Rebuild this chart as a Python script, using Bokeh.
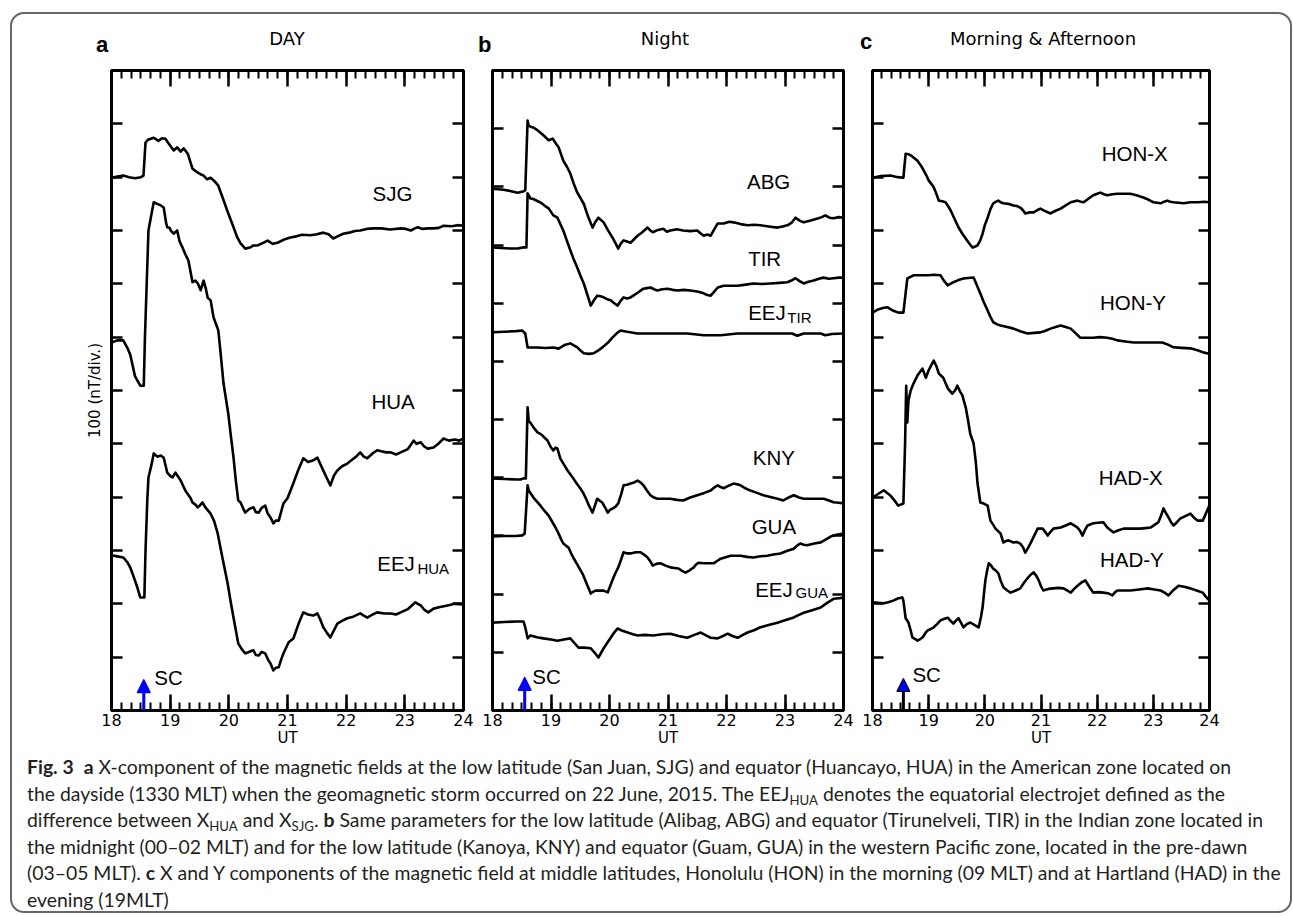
from bokeh.plotting import figure
from bokeh.models import (Range1d, LinearAxis, SingleIntervalTicker, Arrow,
                          NormalHead, ColumnDataSource, Div, CustomJSTickFormatter)
from bokeh.layouts import row, column
from bokeh.embed import file_html
from bokeh.resources import INLINE
from bokeh.core.properties import value

# ---------------- data (UT hours, stacked nT value on the plot scale) ----------------
SJG = [(18.00,999),(18.10,1001),(18.20,1003),(18.30,1000),(18.40,998),(18.50,1000),(18.545,1003),(18.58,1065),(18.62,1070),(18.72,1074),(18.80,1068),(18.86,1073),(18.92,1072),(18.98,1062),(19.06,1050),(19.12,1056),(19.18,1048),(19.23,1054),(19.30,1044),(19.34,1030),(19.38,1016),(19.45,1010),(19.51,1006),(19.57,1003),(19.63,996),(19.69,999),(19.76,992),(19.82,984),(19.90,960),(19.98,935),(20.08,906),(20.14,888),(20.20,876),(20.28,866),(20.36,868),(20.42,872),(20.49,872),(20.57,876),(20.66,881),(20.75,875),(20.83,877),(20.94,883),(21.05,887),(21.15,889),(21.25,892),(21.39,891),(21.50,893),(21.61,896),(21.70,893),(21.78,885),(21.87,890),(21.95,894),(22.05,896),(22.15,899),(22.24,900),(22.35,903),(22.47,904),(22.60,904),(22.75,902),(22.93,904),(23.02,903),(23.10,900),(23.17,904),(23.22,906),(23.30,903),(23.40,904),(23.49,904),(23.58,905),(23.66,909),(23.80,908),(23.90,910),(24.00,909)]
HUA = [(18.00,690),(18.10,694),(18.20,694),(18.27,680),(18.32,667),(18.40,627),(18.49,609),(18.55,609),(18.57,700),(18.60,800),(18.63,900),(18.68,930),(18.72,953),(18.78,950),(18.84,947),(18.89,943),(18.93,915),(18.95,906),(18.99,905),(19.01,900),(19.06,894),(19.12,900),(19.16,880),(19.21,868),(19.26,855),(19.31,844),(19.36,815),(19.38,803),(19.43,806),(19.47,801),(19.52,788),(19.57,806),(19.61,790),(19.64,774),(19.69,769),(19.74,737),(19.82,713),(19.86,670),(19.91,613),(19.99,557),(20.04,510),(20.08,474),(20.12,430),(20.16,394),(20.20,390),(20.24,380),(20.28,371),(20.35,378),(20.42,381),(20.46,372),(20.51,371),(20.56,380),(20.62,384),(20.66,370),(20.71,362),(20.76,351),(20.80,356),(20.85,356),(20.89,372),(20.93,388),(21.00,398),(21.05,412),(21.10,426),(21.18,450),(21.27,473),(21.35,466),(21.44,469),(21.51,474),(21.56,462),(21.61,450),(21.67,436),(21.73,422),(21.79,440),(21.85,450),(21.93,458),(22.02,463),(22.10,470),(22.17,476),(22.24,484),(22.30,476),(22.36,473),(22.45,482),(22.53,488),(22.60,486),(22.68,484),(22.76,484),(22.85,480),(22.93,484),(23.05,490),(23.15,506),(23.20,500),(23.27,503),(23.33,495),(23.39,491),(23.49,493),(23.57,500),(23.66,510),(23.75,506),(23.85,508),(23.93,506),(24.00,510)]
EEJ_HUA = [(18.00,291),(18.10,289),(18.20,287),(18.27,278),(18.32,268),(18.38,250),(18.44,231),(18.49,212),(18.56,212),(18.58,300),(18.61,394),(18.63,437),(18.68,460),(18.72,482),(18.78,476),(18.84,478),(18.89,474),(18.95,446),(19.00,440),(19.04,437),(19.09,446),(19.14,438),(19.18,431),(19.26,412),(19.35,398),(19.38,390),(19.43,386),(19.47,381),(19.51,385),(19.55,390),(19.60,381),(19.69,369),(19.75,355),(19.81,332),(19.89,287),(19.98,238),(20.03,205),(20.08,174),(20.16,126),(20.22,115),(20.28,107),(20.35,110),(20.42,113),(20.46,104),(20.51,103),(20.56,110),(20.62,107),(20.67,95),(20.71,88),(20.76,75),(20.80,80),(20.85,81),(20.89,95),(20.93,107),(21.02,128),(21.10,135),(21.19,163),(21.27,184),(21.35,180),(21.44,178),(21.51,182),(21.56,170),(21.61,156),(21.67,146),(21.73,137),(21.79,150),(21.85,163),(21.93,168),(22.02,173),(22.12,176),(22.24,182),(22.30,178),(22.36,174),(22.45,180),(22.53,184),(22.65,182),(22.76,182),(22.85,180),(22.93,184),(23.05,190),(23.18,203),(23.22,200),(23.27,197),(23.34,188),(23.40,184),(23.49,191),(23.60,194),(23.73,197),(23.85,200),(24.00,199)]

ABG = [(18.00,897),(18.10,896),(18.19,895),(18.30,893),(18.43,890),(18.52,892),(18.56,894),(18.60,1014),(18.62,1005),(18.66,1003),(18.70,1002),(18.76,998),(18.82,993),(18.89,987),(18.96,980),(19.03,983),(19.08,975),(19.13,968),(19.21,945),(19.27,935),(19.33,923),(19.39,905),(19.45,890),(19.56,871),(19.63,850),(19.71,830),(19.76,840),(19.81,847),(19.90,839),(19.97,826),(20.05,813),(20.15,794),(20.19,802),(20.24,808),(20.30,806),(20.36,804),(20.42,810),(20.48,816),(20.56,822),(20.65,830),(20.70,825),(20.74,822),(20.83,826),(20.92,828),(20.98,823),(21.04,825),(21.15,827),(21.26,825),(21.38,824),(21.50,825),(21.56,820),(21.61,816),(21.67,818),(21.73,816),(21.79,827),(21.85,837),(21.95,837),(22.05,840),(22.12,839),(22.24,836),(22.36,834),(22.47,835),(22.58,834),(22.72,832),(22.87,830),(22.96,832),(23.04,834),(23.11,838),(23.18,847),(23.25,842),(23.32,839),(23.44,842),(23.57,846),(23.63,848),(23.69,851),(23.76,847),(23.83,846),(23.92,848),(24.00,847)]
TIR = [(18.00,796),(18.15,795),(18.30,794),(18.43,794),(18.53,796),(18.58,796),(18.60,889),(18.65,880),(18.70,879),(18.74,877),(18.80,874),(18.85,871),(18.90,867),(18.96,863),(19.04,851),(19.11,847),(19.16,836),(19.21,825),(19.27,808),(19.33,791),(19.39,775),(19.45,761),(19.50,748),(19.56,734),(19.62,715),(19.68,696),(19.74,706),(19.79,713),(19.85,712),(19.90,710),(19.96,707),(20.02,705),(20.08,700),(20.14,696),(20.19,704),(20.24,710),(20.30,708),(20.36,710),(20.42,714),(20.48,718),(20.58,725),(20.64,726),(20.70,727),(20.76,724),(20.82,722),(20.90,724),(20.99,725),(21.08,723),(21.16,722),(21.27,723),(21.38,722),(21.50,720),(21.61,717),(21.67,714),(21.73,713),(21.79,720),(21.85,727),(21.95,730),(22.07,730),(22.19,730),(22.33,732),(22.46,734),(22.60,733),(22.75,734),(22.90,735),(23.04,736),(23.11,739),(23.18,743),(23.25,738),(23.32,734),(23.40,737),(23.49,739),(23.58,742),(23.66,744),(23.75,742),(23.83,743),(23.92,744),(24.00,744)]
EEJ_TIR = [(18.00,650),(18.20,651),(18.40,652),(18.51,653),(18.56,648),(18.60,624),(18.77,624),(18.90,623),(19.04,624),(19.13,622),(19.23,628),(19.33,631),(19.45,624),(19.50,619),(19.56,614),(19.65,613),(19.73,614),(19.81,619),(19.89,625),(19.97,632),(20.05,641),(20.14,650),(20.19,653),(20.30,651),(20.48,648),(20.75,648),(21.04,648),(21.33,648),(21.61,645),(21.90,645),(22.19,648),(22.46,648),(22.75,648),(23.04,648),(23.12,648),(23.21,644),(23.32,648),(23.61,648),(23.69,645),(23.80,647),(24.00,648)]
KNY = [(18.00,399),(18.20,398),(18.40,397),(18.48,397),(18.53,399),(18.57,399),(18.60,521),(18.62,498),(18.65,494),(18.68,490),(18.72,484),(18.77,478),(18.81,476),(18.85,473),(18.90,468),(18.94,464),(19.00,452),(19.04,447),(19.08,452),(19.11,450),(19.16,433),(19.22,423),(19.28,413),(19.33,406),(19.38,399),(19.44,390),(19.50,382),(19.55,374),(19.59,366),(19.65,352),(19.71,340),(19.75,352),(19.79,364),(19.84,360),(19.88,357),(19.93,348),(19.97,340),(20.01,345),(20.05,347),(20.10,350),(20.15,356),(20.20,372),(20.24,387),(20.30,388),(20.36,390),(20.42,392),(20.48,395),(20.53,392),(20.58,387),(20.64,378),(20.70,370),(20.76,366),(20.82,364),(20.93,364),(21.04,364),(21.15,362),(21.26,361),(21.38,366),(21.50,370),(21.62,374),(21.73,378),(21.80,384),(21.85,387),(21.90,384),(21.95,382),(22.03,386),(22.12,390),(22.18,389),(22.24,387),(22.32,382),(22.41,378),(22.52,374),(22.63,370),(22.75,367),(22.87,364),(22.97,361),(23.06,366),(23.15,370),(23.24,366),(23.32,364),(23.50,364),(23.66,364),(23.75,361),(23.83,358),(23.92,357),(24.00,356)]
GUA = [(18.00,299),(18.20,300),(18.40,300),(18.51,301),(18.55,304),(18.60,387),(18.62,378),(18.66,372),(18.70,366),(18.76,359),(18.82,352),(18.89,343),(18.96,335),(19.04,321),(19.09,312),(19.13,304),(19.17,295),(19.21,287),(19.26,283),(19.30,280),(19.34,271),(19.38,263),(19.46,249),(19.54,235),(19.61,218),(19.68,201),(19.72,204),(19.76,206),(19.83,206),(19.90,206),(19.97,203),(20.02,216),(20.07,229),(20.11,238),(20.15,246),(20.20,260),(20.24,272),(20.30,270),(20.36,270),(20.45,272),(20.53,272),(20.59,268),(20.65,263),(20.70,256),(20.74,249),(20.80,252),(20.87,253),(20.96,249),(21.04,246),(21.11,245),(21.18,244),(21.24,240),(21.30,237),(21.37,241),(21.44,246),(21.48,251),(21.52,254),(21.60,253),(21.68,253),(21.78,253),(21.84,257),(21.90,261),(22.00,264),(22.07,266),(22.15,266),(22.24,266),(22.35,264),(22.46,263),(22.58,265),(22.70,266),(22.80,268),(22.92,270),(23.03,274),(23.15,278),(23.20,283),(23.26,287),(23.32,285),(23.38,284),(23.50,287),(23.61,289),(23.70,294),(23.78,299),(23.88,302),(24.00,304)]
EEJ_GUA = [(18.00,151),(18.20,152),(18.40,153),(18.53,153),(18.56,143),(18.60,124),(18.65,129),(18.76,126),(18.87,124),(19.00,122),(19.11,120),(19.22,122),(19.33,124),(19.40,116),(19.47,108),(19.57,108),(19.68,107),(19.74,100),(19.81,91),(19.85,98),(19.90,107),(19.96,116),(20.02,125),(20.08,134),(20.14,141),(20.22,137),(20.31,134),(20.40,131),(20.48,129),(20.60,130),(20.75,129),(20.90,131),(21.04,132),(21.18,128),(21.33,125),(21.45,130),(21.56,134),(21.65,129),(21.73,125),(21.85,124),(21.94,128),(22.02,132),(22.10,128),(22.19,125),(22.28,130),(22.36,134),(22.47,138),(22.58,143),(22.72,147),(22.87,151),(23.00,155),(23.15,160),(23.23,164),(23.32,168),(23.45,172),(23.61,177),(23.72,185),(23.83,192),(23.92,193),(24.00,194)]

HON_X = [(18.00,999),(18.15,1002),(18.32,1003),(18.45,1000),(18.55,999),(18.59,1044),(18.64,1043),(18.68,1041),(18.74,1036),(18.80,1031),(18.86,1022),(18.91,1013),(18.96,1003),(19.00,994),(19.05,987),(19.09,981),(19.14,968),(19.18,956),(19.24,955),(19.30,953),(19.35,945),(19.39,938),(19.46,922),(19.53,906),(19.60,894),(19.66,885),(19.72,876),(19.78,868),(19.83,870),(19.87,872),(19.92,882),(19.96,894),(20.00,910),(20.05,924),(20.10,940),(20.15,951),(20.20,954),(20.24,956),(20.28,953),(20.33,951),(20.42,950),(20.51,947),(20.57,946),(20.63,943),(20.68,938),(20.72,932),(20.80,934),(20.87,934),(20.93,938),(20.99,941),(21.08,936),(21.17,932),(21.26,937),(21.35,941),(21.44,947),(21.53,953),(21.60,955),(21.65,956),(21.71,954),(21.76,953),(21.85,960),(21.93,966),(22.00,969),(22.06,971),(22.12,968),(22.18,966),(22.27,968),(22.36,969),(22.48,969),(22.59,969),(22.70,966),(22.82,962),(22.91,958),(23.00,953),(23.07,952),(23.13,951),(23.19,954),(23.25,956),(23.30,954),(23.36,953),(23.45,952),(23.54,951),(23.60,952),(23.66,953),(23.80,953),(23.90,954),(24.00,953)]
HON_Y = [(18.00,746),(18.10,752),(18.20,755),(18.27,756),(18.36,750),(18.46,746),(18.55,746),(18.62,810),(18.73,816),(18.85,816),(18.98,816),(19.10,817),(19.21,816),(19.27,806),(19.34,797),(19.44,803),(19.53,807),(19.62,810),(19.70,811),(19.80,812),(19.86,797),(19.92,782),(19.98,766),(20.05,750),(20.10,738),(20.15,728),(20.22,724),(20.28,722),(20.40,719),(20.51,716),(20.63,711),(20.76,707),(20.88,708),(20.99,709),(21.08,712),(21.17,716),(21.26,719),(21.35,722),(21.44,719),(21.53,716),(21.61,708),(21.70,699),(21.82,699),(21.93,699),(22.05,700),(22.18,699),(22.27,697),(22.36,694),(22.50,692),(22.65,690),(22.80,690),(22.95,690),(23.05,690),(23.16,690),(23.26,686),(23.36,681),(23.50,680),(23.66,679),(23.80,675),(23.90,671),(24.00,669)]
HAD_X = [(18.00,399),(18.10,406),(18.20,413),(18.26,408),(18.32,403),(18.39,394),(18.46,384),(18.50,386),(18.55,388),(18.58,500),(18.60,609),(18.62,540),(18.64,581),(18.68,600),(18.73,613),(18.80,628),(18.89,641),(18.95,624),(19.00,638),(19.05,648),(19.09,656),(19.14,645),(19.18,632),(19.26,624),(19.30,614),(19.34,604),(19.42,594),(19.47,600),(19.51,609),(19.56,598),(19.60,591),(19.66,568),(19.70,545),(19.74,519),(19.80,501),(19.84,465),(19.87,426),(19.92,390),(19.98,388),(20.05,384),(20.10,356),(20.15,348),(20.19,341),(20.28,332),(20.33,315),(20.38,318),(20.42,319),(20.51,315),(20.57,316),(20.63,313),(20.68,306),(20.72,296),(20.77,305),(20.81,313),(20.88,328),(20.94,341),(21.03,341),(21.08,334),(21.12,328),(21.17,335),(21.22,341),(21.35,343),(21.44,347),(21.53,351),(21.59,347),(21.65,343),(21.70,336),(21.74,328),(21.78,338),(21.83,347),(21.93,351),(22.02,352),(22.11,353),(22.18,343),(22.24,338),(22.29,334),(22.38,338),(22.47,341),(22.56,341),(22.65,341),(22.77,341),(22.86,342),(22.95,343),(23.02,348),(23.09,353),(23.14,366),(23.18,379),(23.22,371),(23.27,362),(23.31,354),(23.36,347),(23.42,353),(23.48,360),(23.56,364),(23.66,369),(23.72,362),(23.79,356),(23.88,356),(23.93,368),(24.00,385)]
HAD_Y = [(18.00,203),(18.10,202),(18.20,201),(18.28,203),(18.37,206),(18.45,210),(18.53,212),(18.55,206),(18.59,173),(18.64,165),(18.68,150),(18.71,137),(18.76,134),(18.80,131),(18.85,134),(18.89,137),(18.94,145),(18.98,150),(19.04,153),(19.09,156),(19.15,162),(19.21,169),(19.28,172),(19.34,174),(19.39,168),(19.44,163),(19.48,168),(19.53,173),(19.58,164),(19.62,156),(19.68,162),(19.74,165),(19.82,160),(19.89,156),(19.93,175),(19.96,193),(19.99,225),(20.01,244),(20.04,262),(20.07,276),(20.11,272),(20.15,266),(20.20,262),(20.24,257),(20.28,244),(20.33,231),(20.40,225),(20.46,221),(20.55,225),(20.63,229),(20.70,240),(20.76,248),(20.82,255),(20.87,259),(20.92,252),(20.96,244),(21.00,233),(21.04,225),(21.13,228),(21.22,229),(21.31,230),(21.40,229),(21.47,225),(21.53,221),(21.59,228),(21.65,234),(21.72,240),(21.79,244),(21.86,232),(21.93,221),(22.02,222),(22.11,221),(22.19,220),(22.27,216),(22.32,222),(22.36,225),(22.48,225),(22.59,225),(22.75,227),(22.90,229),(23.02,227),(23.13,225),(23.20,221),(23.27,216),(23.36,226),(23.45,234),(23.55,232),(23.66,229),(23.77,225),(23.88,221),(23.93,214),(24.00,206)]

# station labels: (text, UT of left edge, value at text middle)
LABELS_A = [("SJG", 22.45, 969), ("HUA", 22.43, 579), ("EEJ", 22.53, 276)]
SUBS_A = [("HUA", 23.215, 266)]
LABELS_B = [("ABG", 22.35, 909), ("TIR", 22.37, 777), ("EEJ", 22.37, 684),
            ("KNY", 22.45, 435), ("GUA", 22.43, 316), ("EEJ", 22.49, 208)]
SUBS_B = [("TIR", 23.04, 675), ("GUA", 23.18, 203)]
LABELS_C = [("HON-X", 22.08, 1044), ("HON-Y", 22.05, 765), ("HAD-X", 22.03, 437), ("HAD-Y", 22.05, 283)]
SUBS_C = []

SC_TIME = 18.55
SC_TOP = [58, 57, 60]             # arrow tip value for panels a, b, c
SC_TEXT = [(18.73, 62), (18.68, 58), (18.71, 67)]

TITLES = ["DAY", "Night", "Morning &amp; Afternoon"]
LETTERS = ["a", "b", "c"]
YMAX = [1200, 1100, 1200]

CAPTION_LINES = [
    '<b>Fig. 3</b>&nbsp;&nbsp;<b>a</b> X-component of the magnetic fields at the low latitude (San Juan, SJG) and equator (Huancayo, HUA) in the American zone located on',
    'the dayside (1330 MLT) when the geomagnetic storm occurred on 22 June, 2015. The EEJ<sub>HUA</sub> denotes the equatorial electrojet defined as the',
    'difference between X<sub>HUA</sub> and X<sub>SJG</sub>. <b>b</b> Same parameters for the low latitude (Alibag, ABG) and equator (Tirunelveli, TIR) in the Indian zone located in',
    'the midnight (00–02 MLT) and for the low latitude (Kanoya, KNY) and equator (Guam, GUA) in the western Pacific zone, located in the pre-dawn',
    '(03–05 MLT). <b>c</b> X and Y components of the magnetic field at middle latitudes, Honolulu (HON) in the morning (09 MLT) and at Hartland (HAD) in the',
    'evening (19MLT)',
]

STATION_FONT = "Liberation Sans"
TICK_FONT = "DejaVu Sans"

# layout (pixels)
WIDTHS = [465, 380, 433]
BORDERS = [(99, 14), (15, 14), (15, 81)]
HEAD_H = 44
FIG_H = 696
# header text placement inside each header box: letter left/top, title centre/top
HEAD_LAYOUT = [(84, 20, 275, 16), (1, 20, 188, 16), (3, 17, 186, 16)]


def style_axis(ax, ticker, tick_in, minor_in, labels):
    ax.ticker = ticker
    ax.axis_line_color = "black"
    ax.axis_line_width = 3
    ax.major_tick_line_color = "black"
    ax.major_tick_line_width = 2.5
    ax.major_tick_in = tick_in
    ax.major_tick_out = 0
    if minor_in:
        ax.minor_tick_line_color = "black"
        ax.minor_tick_line_width = 2
        ax.minor_tick_in = minor_in
        ax.minor_tick_out = 0
    else:
        ax.minor_tick_line_color = None
    ax.major_label_text_font = TICK_FONT
    ax.major_label_text_font_size = "16px"
    ax.major_label_text_color = "black"
    ax.major_label_standoff = 3
    if not labels:
        ax.formatter = CustomJSTickFormatter(code="return '';")
        ax.major_label_standoff = 0


def make_panel(i, series, labels, subs, ylabel=None, sc_black=False):
    bl, br = BORDERS[i]
    p = figure(width=WIDTHS[i], height=FIG_H, x_range=Range1d(18, 24), y_range=Range1d(0, YMAX[i]),
               output_backend="svg", toolbar_location=None,
               min_border_left=bl, min_border_right=br, min_border_top=12, min_border_bottom=44,
               background_fill_color="white", border_fill_color="white", margin=0)
    p.xgrid.visible = False
    p.ygrid.visible = False
    p.outline_line_color = "black"
    p.outline_line_width = 3

    xb = p.xaxis[0]
    style_axis(xb, SingleIntervalTicker(interval=1, num_minor_ticks=6), 16, 8, True)
    xb.axis_label = "UT"
    xb.axis_label_text_font = TICK_FONT
    xb.axis_label_text_font_size = "15px"
    xb.axis_label_text_font_style = "normal"
    xb.axis_label_text_color = "black"
    xb.axis_label_standoff = 0

    xt = LinearAxis()
    style_axis(xt, SingleIntervalTicker(interval=1, num_minor_ticks=6), 16, 8, False)
    p.add_layout(xt, "above")

    yl = p.yaxis[0]
    style_axis(yl, SingleIntervalTicker(interval=100, num_minor_ticks=0), 11, 0, False)
    if ylabel:
        yl.axis_label = ylabel
        yl.axis_label_text_font = TICK_FONT
        yl.axis_label_text_font_size = "15px"
        yl.axis_label_text_font_style = "normal"
        yl.axis_label_text_color = "black"
        yl.axis_label_standoff = 8

    yr = LinearAxis()
    style_axis(yr, SingleIntervalTicker(interval=100, num_minor_ticks=0), 11, 0, False)
    p.add_layout(yr, "right")

    for s in series:
        p.line([a for a, _ in s], [b for _, b in s], line_color="black", line_width=2.6,
               line_join="round")

    src = ColumnDataSource(dict(x=[l[1] for l in labels], y=[l[2] for l in labels],
                                t=[l[0] for l in labels]))
    p.text(x="x", y="y", text="t", source=src, text_font=value(STATION_FONT),
           text_font_size="20.5px", text_baseline="middle", text_align="left", text_color="black")
    if subs:
        ssrc = ColumnDataSource(dict(x=[l[1] for l in subs], y=[l[2] for l in subs],
                                     t=[l[0] for l in subs]))
        p.text(x="x", y="y", text="t", source=ssrc, text_font=value(STATION_FONT),
               text_font_size="15px", text_baseline="middle", text_align="left", text_color="black")

    scx, scy = SC_TEXT[i]
    p.text(x=[scx], y=[scy], text=["SC"], text_font=value(STATION_FONT), text_font_size="20.5px",
           text_baseline="middle", text_align="left", text_color="black")

    shaft = "black" if sc_black else "blue"
    p.add_layout(Arrow(end=NormalHead(size=13, fill_color="blue", line_color=shaft, line_width=1.2),
                       x_start=SC_TIME, y_start=0, x_end=SC_TIME, y_end=SC_TOP[i],
                       line_color=shaft, line_width=3))
    return p


def make_header(i):
    lx, ly, tx, ty = HEAD_LAYOUT[i]
    html = (f'<div style="position:relative; width:{WIDTHS[i]}px; height:{HEAD_H}px;">'
            f'<span style="position:absolute; left:{lx}px; top:{ly}px; font-family:\'Liberation Sans\', Arial, sans-serif; '
            f'font-weight:bold; font-size:22px; line-height:22px; color:#000;">{LETTERS[i]}</span>'
            f'<span style="position:absolute; left:{tx}px; top:{ty}px; transform:translateX(-50%); '
            f'font-family:\'DejaVu Sans\', sans-serif; font-size:18px; line-height:18px; white-space:nowrap; color:#000;">'
            f'{TITLES[i]}</span></div>')
    return Div(text=html, width=WIDTHS[i], height=HEAD_H, margin=0)


fa = make_panel(0, [SJG, HUA, EEJ_HUA], LABELS_A, SUBS_A, ylabel="100 (nT/div.)")
fb = make_panel(1, [ABG, TIR, EEJ_TIR, KNY, GUA, EEJ_GUA], LABELS_B, SUBS_B)
fc = make_panel(2, [HON_X, HON_Y, HAD_X, HAD_Y], LABELS_C, SUBS_C, sc_black=True)

heads = row(make_header(0), make_header(1), make_header(2), margin=0)

cap_html = ('<div style="font-family: Lato, \'Open Sans\', sans-serif; font-size: 19.4px; line-height: 26.6px; '
            'white-space: nowrap; color: #231f20; padding-left: 15px;">'
            + '<br>'.join(l.replace('<sub>', '<sub style="font-size:68%; line-height:0; vertical-align:-0.3em;">')
                          for l in CAPTION_LINES)
            + '</div>')
cap = Div(text=cap_html, width=1278, height=157, margin=0)

layout = column(heads, row(fa, fb, fc, margin=0), cap, margin=(12, 0, 0, 10),
                styles={"border": "2px solid #666", "border-radius": "14px"})

open("out.html", "w").write(file_html(layout, INLINE))
